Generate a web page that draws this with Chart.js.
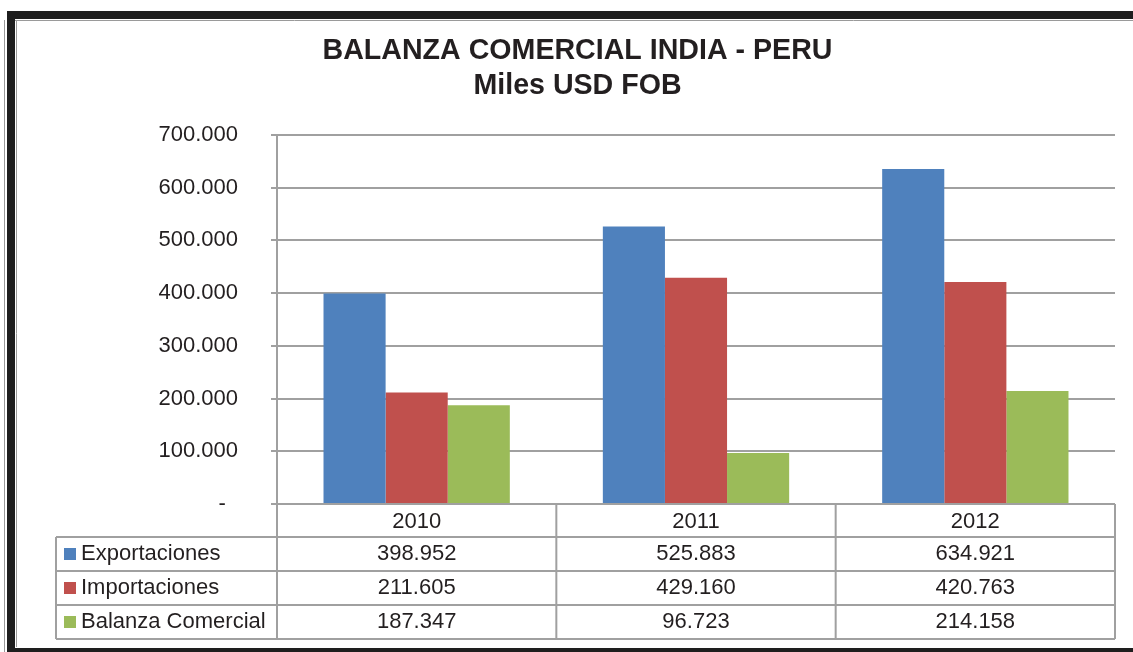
<!DOCTYPE html>
<html>
<head>
<meta charset="utf-8">
<title>Balanza Comercial India - Peru</title>
<script src="https://cdn.jsdelivr.net/npm/chart.js@4.4.1/dist/chart.umd.min.js"></script>
<style>
  html, body { margin: 0; padding: 0; background: #fff; }
  canvas { display: block; }
</style>
</head>
<body>
<canvas id="balanza" width="1133" height="652"></canvas>
<script>
const years = ['2010', '2011', '2012'];
const exportaciones = [398952, 525883, 634921];
const importaciones = [211605, 429160, 420763];
const balanza = [187347, 96723, 214158];

const seriesNames = ['Exportaciones', 'Importaciones', 'Balanza Comercial'];
const seriesColors = ['#4f81bd', '#c0504d', '#9bbb59'];

const textColor = '#231f20';
const lineColor = '#a0a0a0';

function fmt(v) {
    return String(v).replace(/\B(?=(\d{3})+(?!\d))/g, '.');
}

Chart.defaults.font.family = '"Liberation Sans", Arial, sans-serif';
Chart.defaults.color = textColor;

// white page + the black frame around it
const framePlugin = {
    id: 'frame',
    afterLayout(chart) {
        // title is centred a bit right of the page centre in the original
        if (chart.titleBlock) chart.titleBlock.left = 40;
    },
    beforeDraw(chart) {
        const ctx = chart.ctx;
        const w = chart.width, h = chart.height;
        ctx.save();
        ctx.fillStyle = '#fff';
        ctx.fillRect(0, 0, w, h);
        ctx.fillStyle = '#1e1e1e';
        ctx.fillRect(7, 11, w - 7, 8);
        ctx.fillRect(7, 11, 8, h - 11);
        ctx.fillRect(7, 648, w - 7, 4);
        ctx.strokeStyle = '#9a9a9a';
        ctx.lineWidth = 1;
        ctx.beginPath();
        ctx.moveTo(15, 20.5); ctx.lineTo(w, 20.5);
        ctx.moveTo(4.5, 20); ctx.lineTo(4.5, h);
        ctx.moveTo(16.5, 20); ctx.lineTo(16.5, 647);
        ctx.stroke();
        ctx.restore();
    }
};

// data table under the plot, drawn from the same arrays
const tablePlugin = {
    id: 'dataTable',
    afterDraw(chart) {
        const ctx = chart.ctx;
        const area = chart.chartArea;
        const n = years.length;
        const colW = (area.right - area.left) / n;
        const top = area.bottom;
        const headH = 33;
        const rowH = 34;
        const tableLeft = 56;
        const bottom = top + headH + rowH * seriesNames.length;
        const values = [exportaciones, importaciones, balanza];

        ctx.save();
        ctx.strokeStyle = lineColor;
        ctx.lineWidth = 2;
        ctx.beginPath();
        for (let r = 0; r <= seriesNames.length; r++) {
            const y = top + headH + r * rowH;
            ctx.moveTo(tableLeft, y);
            ctx.lineTo(area.right, y);
        }
        ctx.moveTo(tableLeft, top + headH);
        ctx.lineTo(tableLeft, bottom);
        for (let i = 0; i <= n; i++) {
            const x = area.left + i * colW;
            ctx.moveTo(x, top);
            ctx.lineTo(x, bottom);
        }
        ctx.stroke();

        ctx.fillStyle = textColor;
        ctx.font = '22px "Liberation Sans", Arial, sans-serif';
        ctx.textBaseline = 'middle';
        ctx.textAlign = 'center';
        years.forEach((y, i) => {
            ctx.fillText(y, area.left + (i + 0.5) * colW, top + headH / 2 + 1);
        });

        seriesNames.forEach((name, r) => {
            const cy = top + headH + r * rowH + rowH / 2;
            ctx.fillStyle = seriesColors[r];
            ctx.fillRect(64, cy - 6, 12, 12);
            ctx.fillStyle = textColor;
            ctx.textAlign = 'left';
            ctx.fillText(name, 81, cy);
            ctx.textAlign = 'center';
            values[r].forEach((v, i) => {
                ctx.fillText(fmt(v), area.left + (i + 0.5) * colW, cy);
            });
        });
        ctx.restore();
    }
};

const ctx = document.getElementById('balanza').getContext('2d');
new Chart(ctx, {
    type: 'bar',
    data: {
        labels: years,
        datasets: [
            { label: seriesNames[0], data: exportaciones, backgroundColor: seriesColors[0] },
            { label: seriesNames[1], data: importaciones, backgroundColor: seriesColors[1] },
            { label: seriesNames[2], data: balanza, backgroundColor: seriesColors[2] }
        ]
    },
    options: {
        responsive: false,
        animation: false,
        layout: { padding: { left: 0, right: 18, top: 0, bottom: 148 } },
        datasets: {
            bar: { categoryPercentage: 0.667, barPercentage: 1.0, borderWidth: 0 }
        },
        plugins: {
            legend: { display: false },
            tooltip: { enabled: false },
            title: {
                display: true,
                text: ['BALANZA COMERCIAL INDIA - PERU', 'Miles USD FOB'],
                color: textColor,
                font: { size: 28.6, weight: 'bold', lineHeight: 1.22 },
                padding: { top: 34, bottom: 31 }
            }
        },
        scales: {
            x: { display: false },
            y: {
                min: 0,
                max: 700000,
                afterFit(scale) { scale.width = 277; },
                ticks: {
                    stepSize: 100000,
                    padding: 33,
                    color: textColor,
                    font: { size: 22 },
                    callback: v => v === 0 ? '-  ' : fmt(v)
                },
                grid: { color: lineColor, lineWidth: 2, tickLength: 6 },
                border: { color: lineColor, width: 2 }
            }
        }
    },
    plugins: [framePlugin, tablePlugin]
});
</script>
</body>
</html>
